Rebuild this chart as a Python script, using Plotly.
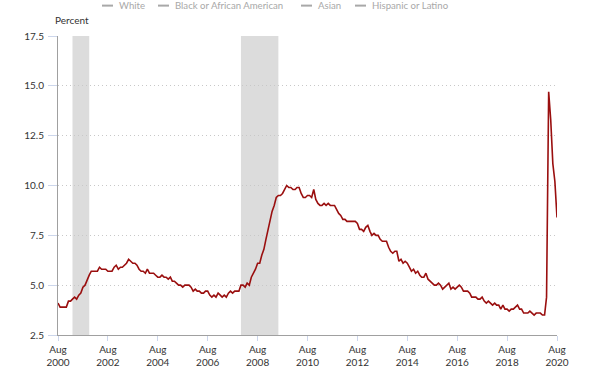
import plotly.graph_objects as go
import pandas as pd

start_month = "2000-08-01"
rate = [
    4.1, 3.9, 3.9, 3.9, 3.9,
    4.2, 4.2, 4.3, 4.4, 4.3, 4.5, 4.6, 4.9, 5.0, 5.3, 5.5, 5.7,
    5.7, 5.7, 5.7, 5.9, 5.8, 5.8, 5.8, 5.7, 5.7, 5.7, 5.9, 6.0,
    5.8, 5.9, 5.9, 6.0, 6.1, 6.3, 6.2, 6.1, 6.1, 6.0, 5.8, 5.7,
    5.7, 5.6, 5.8, 5.6, 5.6, 5.6, 5.5, 5.4, 5.4, 5.5, 5.4, 5.4,
    5.3, 5.4, 5.2, 5.2, 5.1, 5.0, 5.0, 4.9, 5.0, 5.0, 5.0, 4.9,
    4.7, 4.8, 4.7, 4.7, 4.6, 4.6, 4.7, 4.7, 4.5, 4.4, 4.5, 4.4,
    4.6, 4.5, 4.4, 4.5, 4.4, 4.6, 4.7, 4.6, 4.7, 4.7, 4.7, 5.0,
    5.0, 4.9, 5.1, 5.0, 5.4, 5.6, 5.8, 6.1, 6.1, 6.5, 6.8, 7.3,
    7.8, 8.3, 8.7, 9.0, 9.4, 9.5, 9.5, 9.6, 9.8, 10.0, 9.9, 9.9,
    9.8, 9.8, 9.9, 9.9, 9.6, 9.4, 9.4, 9.5, 9.5, 9.4, 9.8, 9.3,
    9.1, 9.0, 9.0, 9.1, 9.0, 9.1, 9.0, 9.0, 9.0, 8.8, 8.6, 8.5,
    8.3, 8.3, 8.2, 8.2, 8.2, 8.2, 8.2, 8.1, 7.8, 7.8, 7.7, 7.9,
    8.0, 7.7, 7.5, 7.6, 7.5, 7.5, 7.3, 7.2, 7.2, 7.2, 6.9, 6.7,
    6.6, 6.7, 6.7, 6.2, 6.3, 6.1, 6.2, 6.1, 5.9, 5.7, 5.8, 5.6,
    5.7, 5.5, 5.4, 5.4, 5.6, 5.3, 5.2, 5.1, 5.0, 5.0, 5.1, 5.0,
    4.8, 4.9, 5.0, 5.1, 4.8, 4.9, 4.8, 4.9, 5.0, 4.9, 4.7, 4.7,
    4.7, 4.6, 4.4, 4.4, 4.4, 4.3, 4.3, 4.4, 4.2, 4.1, 4.2, 4.1,
    4.0, 4.1, 4.0, 4.0, 3.8, 4.0, 3.8, 3.8, 3.7, 3.8, 3.8, 3.9,
    4.0, 3.8, 3.8, 3.6, 3.6, 3.6, 3.7, 3.6, 3.5, 3.6, 3.6, 3.6,
    3.5, 3.5, 4.4, 14.7, 13.3, 11.1, 10.2, 8.4,
]
months = pd.date_range(start_month, periods=len(rate), freq="MS")

recession_start = ["2001-03-01", "2007-12-01"]
recession_end = ["2001-11-01", "2009-06-01"]

legend_names = ["White", "Black or African American", "Asian", "Hispanic or Latino"]
legend_x_px = [102, 158, 301, 355]

tick_dates = [f"{y}-08-01" for y in range(2000, 2021, 2)]
tick_labels = [f"Aug<br>{y}" for y in range(2000, 2021, 2)]
y_ticks = [2.5, 5.0, 7.5, 10.0, 12.5, 15.0, 17.5]

FONT = "Lato"
FS = 9.6
L, R, T, B = 58, 43, 36, 39
W, H = 600, 380
pw = W - L - R
ph = H - T - B

fig = go.Figure()
fig.add_trace(go.Scatter(
    x=months, y=rate, mode="lines",
    line=dict(color="#9a0f0f", width=1.6),
    showlegend=False, hoverinfo="x+y",
))

shapes = []
for s, e in zip(recession_start, recession_end):
    shapes.append(dict(type="rect", xref="x", yref="paper", x0=s, x1=e, y0=0, y1=1,
                       fillcolor="#dcdcdc", line=dict(width=0), layer="below"))

annotations = []
ly = (H - B - 5) / ph
for name, px in zip(legend_names, legend_x_px):
    x0 = (px - L) / pw
    x1 = (px + 11 - L) / pw
    shapes.append(dict(type="line", xref="paper", yref="paper", x0=x0, x1=x1, y0=ly, y1=ly,
                       line=dict(color="#a8a8a8", width=2)))
    annotations.append(dict(text=name, xref="paper", yref="paper", x=(px + 15 - L) / pw, y=ly,
                            xanchor="left", yanchor="middle", showarrow=False,
                            font=dict(family=FONT, size=FS, color="#a8a8a8")))

annotations.append(dict(text="Percent", xref="paper", yref="paper", x=(53 - L) / pw,
                        y=(H - B - 20) / ph, xanchor="left", yanchor="middle", showarrow=False,
                        font=dict(family=FONT, size=FS + 0.4, color="#333333")))

fig.update_layout(
    width=W, height=H,
    margin=dict(l=L, r=R, t=T, b=B),
    paper_bgcolor="white", plot_bgcolor="white",
    font=dict(family=FONT, size=FS, color="#333333"),
    shapes=shapes, annotations=annotations,
    showlegend=False,
)
fig.update_xaxes(
    range=[months[0], tick_dates[-1]],
    tickvals=tick_dates, ticktext=tick_labels,
    showgrid=False, showline=True, linecolor="#a0a0a0", linewidth=1,
    ticks="outside", ticklen=5, tickcolor="#ccd6eb",
    tickfont=dict(family=FONT, size=FS + 0.4, color="#333333"),
    zeroline=False,
)
fig.update_yaxes(
    range=[2.5, 17.5], tickvals=y_ticks, tickformat=".1f",
    showgrid=True, gridcolor="#c8c8c8", griddash="1px,3px", gridwidth=1,
    showline=True, linecolor="#a0a0a0", linewidth=1,
    ticks="outside", ticklen=9, tickcolor="#ccd6eb", ticklabelstandoff=2,
    tickfont=dict(family=FONT, size=FS + 0.4, color="#333333"),
    zeroline=False,
)

fig.write_html("out.html", config={"displayModeBar": False},
               post_script="document.body.style.margin='0';document.body.style.overflow='hidden';window.dispatchEvent(new Event('resize'));")
